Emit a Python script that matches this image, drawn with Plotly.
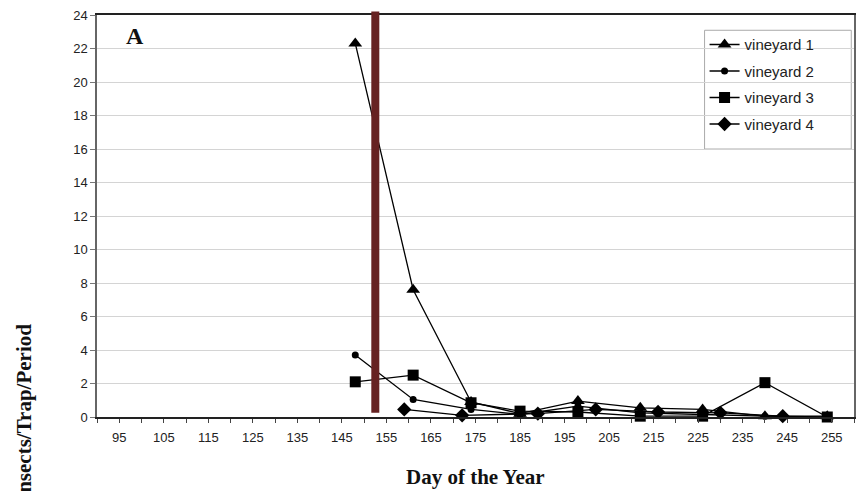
import plotly.graph_objects as go

# ---- data ----
days_v1 = [148, 161, 174, 185, 198, 212, 226, 240, 254]
v1 = [22.3, 7.6, 0.9, 0.2, 0.95, 0.55, 0.45, 0.05, 0.05]

days_v2 = [148, 161, 174, 185, 198, 212, 226, 240, 254]
v2 = [3.7, 1.05, 0.45, 0.15, 0.65, 0.25, 0.15, 0.05, 0.0]

days_v3 = [148, 161, 174, 185, 198, 212, 226, 240, 254]
v3 = [2.1, 2.5, 0.85, 0.35, 0.3, 0.05, 0.05, 2.05, 0.0]

days_v4 = [159, 172, 189, 202, 216, 230, 244]
v4 = [0.45, 0.1, 0.2, 0.45, 0.3, 0.25, 0.05]

series_names = ["vineyard 1", "vineyard 2", "vineyard 3", "vineyard 4"]
event_day = 152.5

fig = go.Figure()
styles = [("triangle-up", 12), ("circle", 7), ("square", 11), ("diamond", 11)]
for name, xs, ys, (sym, sz) in zip(series_names,
                                    [days_v1, days_v2, days_v3, days_v4],
                                    [v1, v2, v3, v4], styles):
    fig.add_trace(go.Scatter(
        x=xs, y=ys, name=name, legendgroup=name, mode="lines+markers",
        line=dict(color="black", width=1.3),
        marker=dict(symbol=sym, size=sz, color="black"),
        cliponaxis=False,
    ))

fig.add_shape(type="line", xref="x", yref="paper",
              x0=event_day, x1=event_day, y0=0.0104, y1=1.009,
              line=dict(color="#662222", width=8), layer="above")

# legend frame
fig.add_shape(type="rect", xref="paper", yref="paper",
              x0=0.8026, x1=0.9964, y0=0.6666, y1=0.962,
              line=dict(color="#aaaaaa", width=1), fillcolor="white", layer="below")

axis_font = dict(family="Liberation Sans, Arial", size=13, color="#222")
fig.update_layout(
    width=859, height=491, autosize=False,
    margin=dict(l=97, r=3, t=15, b=74),
    paper_bgcolor="white", plot_bgcolor="white",
    showlegend=True,
    legend=dict(x=0.8026, y=0.967, xanchor="left", yanchor="top",
                borderwidth=0, bgcolor="rgba(0,0,0,0)",
                font=dict(family="Liberation Sans, Arial", size=15, color="#222"),
                tracegroupgap=4, itemwidth=30),
    xaxis=dict(range=[90, 260], tick0=95, dtick=10,
               ticks="outside", ticklen=4, tickcolor="#444",
               minor=dict(dtick=5, tick0=90, ticks="outside", ticklen=4, tickcolor="#444"),
               showgrid=False, zeroline=False,
               showline=True, linecolor="#222", linewidth=1.5, mirror=True,
               tickfont=axis_font, ticklabelstandoff=4),
    yaxis=dict(range=[0, 24], dtick=2, ticks="outside", ticklen=5, tickcolor="#777",
               showgrid=True, gridcolor="#d4d4d4", gridwidth=1, zeroline=False,
               showline=True, linecolor="#666", linewidth=1.5, mirror=True,
               tickfont=axis_font),
    annotations=[
        dict(text="<b>A</b>", xref="paper", yref="paper", x=0.036, y=0.985,
             xanchor="left", yanchor="top", showarrow=False,
             font=dict(family="Liberation Serif, Times New Roman", size=24, color="#111")),
        dict(text="<b>Day of the Year</b>", xref="paper", yref="paper", x=0.5, y=-0.150,
             xanchor="center", yanchor="middle", showarrow=False,
             font=dict(family="Liberation Serif, Times New Roman", size=21, color="#111")),
        dict(text="<b>Insects/Trap/Period</b>", xref="paper", yref="paper", x=-0.0967, y=0.237,
             xanchor="center", yanchor="top", textangle=-90, showarrow=False,
             font=dict(family="Liberation Serif, Times New Roman", size=21, color="#111")),
    ],
)

post = ("document.body.style.margin='0';document.body.style.overflow='hidden';"
        "document.documentElement.style.overflow='hidden';"
        "Plotly.relayout('{plot_id}', {width: 859, height: 491, autosize: false});")
fig.write_html("out.html", post_script=post, config={"displayModeBar": False})
